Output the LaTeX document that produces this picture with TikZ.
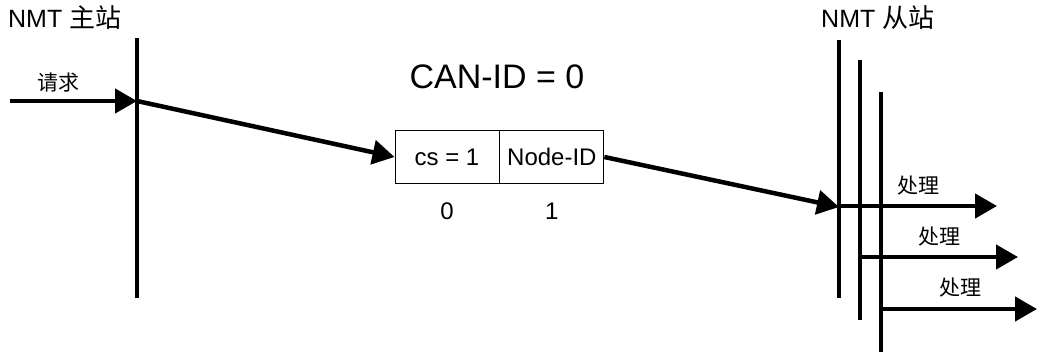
\documentclass[tikz,border=0pt]{standalone}
\usepackage{fontspec}
\setmainfont{Liberation Sans}
\newfontfamily\cjk{Noto Sans CJK SC}
\usetikzlibrary{arrows.meta,positioning}
\tikzset{
  flowarrow/.style={-{Triangle[length=22pt, width=24pt]}, line width=4.5pt, draw=black},
  busline/.style={line width=4pt, draw=black},
  field/.style={draw=black, line width=0.9pt, minimum height=53pt, minimum width=104pt,
    inner sep=0pt, font=\fontsize{24}{28}\selectfont},
  idx/.style={font=\fontsize{24}{28}\selectfont, inner sep=0pt},
  station/.style={font=\fontsize{25}{29}\selectfont, inner sep=0pt, anchor=base west},
  cjklabel/.style={font=\fontsize{21}{25}\selectfont\cjk, inner sep=0pt}
}

\begin{document}
\begin{tikzpicture}[x=1pt, y=-1pt]
        \useasboundingbox (0,0) rectangle (1038,352);

        \node[station] (master) at (8,28) {NMT {\cjk\fontsize{26}{29}\selectfont 主站}};
        \node[station] (slave) at (821,28) {NMT {\cjk\fontsize{26}{29}\selectfont 从站}};
        \node[font=\fontsize{34}{38}\selectfont, inner sep=0pt] (canid) at (497,77) {CAN-ID = 0};

        % master and slave lines
        \coordinate (mtop) at (137,38);
        \coordinate (mbot) at (137,298);
        \coordinate (s1top) at (839,40);
        \coordinate (s1bot) at (839,298);
        \coordinate (s2top) at (860,60);
        \coordinate (s2bot) at (860,320);
        \coordinate (s3top) at (881,92);
        \coordinate (s3bot) at (881,352);
        \draw[busline] (mtop) -- (mbot);
        \draw[busline] (s1top) -- (s1bot);
        \draw[busline] (s2top) -- (s2bot);
        \draw[busline] (s3top) -- (s3bot);

        % message frame
        \node[field] (cs) at (447,157) {cs = 1};
        \node[field, right=0pt of cs] (nid) {Node-ID};
        \node[idx, below=19pt of cs] (b0) {0};
        \node[idx, below=19pt of nid] (b1) {1};

        % request
        \coordinate (in) at (10,101);
        \coordinate (mhit) at (137,101);
        \node[cjklabel] (req) at (58,83) {请求};
        \draw[flowarrow] (in) -- (mhit);
        \draw[flowarrow] (mhit) -- (cs.west);
        \coordinate (shit) at (839,207);
        \draw[flowarrow] (nid.east) -- (shit);

        % processing
        \coordinate (p1) at (839,206);
        \coordinate (q1) at (997,206);
        \coordinate (p2) at (860,257);
        \coordinate (q2) at (1018,257);
        \coordinate (p3) at (881,309);
        \coordinate (q3) at (1037,309);
        \draw[flowarrow] (p1) -- (q1);
        \draw[flowarrow] (p2) -- (q2);
        \draw[flowarrow] (p3) -- (q3);
        \node[cjklabel] (proc1) at (918,186) {处理};
        \node[cjklabel] (proc2) at (939,237) {处理};
        \node[cjklabel] (proc3) at (960,288) {处理};
    \end{tikzpicture}
\end{document}
